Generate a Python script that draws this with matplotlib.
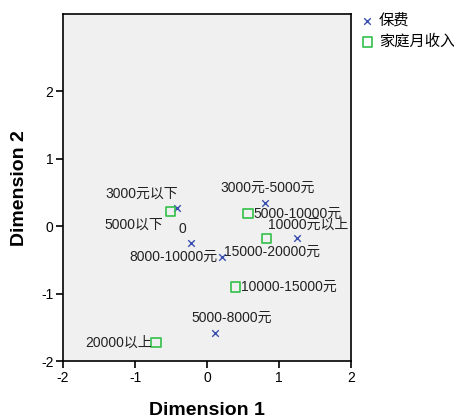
import matplotlib
matplotlib.use('Agg')
from matplotlib import pyplot as plt

plt.rcParams['font.family'] = ['Liberation Sans', 'Noto Sans CJK SC', 'DejaVu Sans']
plt.rcParams['axes.unicode_minus'] = False

# 保费 category points
premium_labels = ['3000元以下', '3000元-5000元', '0', '8000-10000元', '10000元以上', '5000-8000元']
premium_x = [-0.42, 0.81, -0.22, 0.21, 1.25, 0.11]
premium_y = [0.27, 0.34, -0.25, -0.46, -0.18, -1.58]

# 家庭月收入 category points
income_labels = ['5000以下', '5000-10000元', '15000-20000元', '10000-15000元', '20000以上']
income_x = [-0.51, 0.57, 0.83, 0.40, -0.71]
income_y = [0.22, 0.19, -0.18, -0.90, -1.72]

# label offsets in points (dx, dy, ha)
premium_offsets = [(-25, 10, 'center'), (2, 11, 'center'), (-6, 10, 'center'),
                   (-3, 0, 'right'), (8, 10, 'center'), (12, 11, 'center')]
income_offsets = [(-5, -10, 'right'), (4, 0, 'left'), (-31, -10, 'left'),
                  (4, 0, 'left'), (-3, 0, 'right')]

fig = plt.figure(figsize=(4.54, 4.17), dpi=100)
ax = fig.add_axes([0.139, 0.134, 0.634, 0.832])
ax.set_facecolor('#f0f0f0')

ax.scatter(premium_x, premium_y, marker='x', s=22, color='#3a4fb0', linewidths=1.0, label='保费', zorder=3)
ax.scatter(income_x, income_y, marker='s', s=45, facecolors='none', edgecolors='#33c04a',
           linewidths=1.2, label='家庭月收入', zorder=3)

for lab, x, y, (dx, dy, ha) in zip(premium_labels, premium_x, premium_y, premium_offsets):
    ax.annotate(lab, (x, y), xytext=(dx, dy), textcoords='offset points', ha=ha, va='center',
                fontsize=10, color='#222222')
for lab, x, y, (dx, dy, ha) in zip(income_labels, income_x, income_y, income_offsets):
    ax.annotate(lab, (x, y), xytext=(dx, dy), textcoords='offset points', ha=ha, va='center',
                fontsize=10, color='#222222')

ax.set_xlim(-2, 2)
ax.set_ylim(-2, 3.14)
ax.set_xticks([-2, -1, 0, 1, 2])
ax.set_yticks([-2, -1, 0, 1, 2])
ax.tick_params(direction='out', length=5, width=1.2, labelsize=10, pad=2)
for sp in ax.spines.values():
    sp.set_linewidth(1.2)
ax.set_xlabel('Dimension 1', fontsize=14, fontweight='bold', labelpad=12)
ax.set_ylabel('Dimension 2', fontsize=14, fontweight='bold', labelpad=9)

fig.legend(loc='upper left', bbox_to_anchor=(0.787, 0.972), frameon=False, fontsize=11,
           handletextpad=0.2, handlelength=1.1, borderpad=0.1, labelspacing=0.45, borderaxespad=0)

fig.savefig('out.png', dpi=100)
